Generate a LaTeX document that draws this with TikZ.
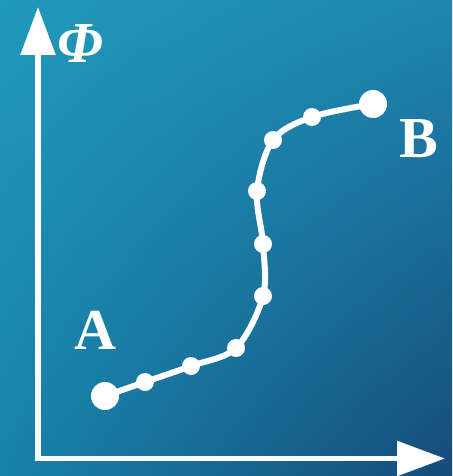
\documentclass[tikz,border=0pt]{standalone}
\usepackage{fontspec}
\setmainfont{Liberation Serif}
\usetikzlibrary{arrows.meta,shadings}
\definecolor{bgTL}{HTML}{2099BA}
\definecolor{bgTR}{HTML}{1E86B0}
\definecolor{bgBL}{HTML}{1882AA}
\definecolor{bgBR}{HTML}{154B7B}
\tikzset{
  axis/.style={white, line width=5.5pt, -{Triangle[width=34pt,length=48pt]}},
  curveline/.style={white, line width=6pt, line cap=round, line join=round},
  bigdot/.style={circle, fill=white, minimum size=28pt, inner sep=0pt},
  smalldot/.style={circle, fill=white, minimum size=18pt, inner sep=0pt},
  lbl/.style={text=white, inner sep=0pt, anchor=base, font=\fontsize{58}{60}\selectfont\bfseries}
}
\begin{document}
\begin{tikzpicture}[x=1pt,y=-1pt]
\useasboundingbox (0,0) rectangle (452,476);
\clip (0,0) rectangle (452,476);
\shade[upper left=bgTL, upper right=bgTR, lower left=bgBL, lower right=bgBR] (0,0) rectangle (452,476);
% axes
\coordinate (O) at (38,458.5);
\coordinate (Ytip) at (38,7);
\coordinate (Xtip) at (445,458.5);
\draw[axis] (38,461) -- (Ytip);
\draw[axis] (35.3,458.5) -- (Xtip);
% points
\coordinate (A) at (105,396);
\coordinate (p1) at (145,382);
\coordinate (p2) at (191,366);
\coordinate (p3) at (236,348);
\coordinate (p4) at (263,296);
\coordinate (p5) at (263,244);
\coordinate (p6) at (257,191);
\coordinate (p7) at (273,140);
\coordinate (p8) at (312,117);
\coordinate (B) at (373,104);
\draw[curveline] plot[smooth, tension=0.55] coordinates {(A) (p1) (p2) (p3) (p4) (p5) (p6) (p7) (p8) (B)};
\node[bigdot] (dA) at (A) {};
\node[bigdot] (dB) at (B) {};
\foreach \p in {p1,p2,p3,p4,p5,p6,p7,p8} \node[smalldot] (d\p) at (\p) {};
% labels
\node[lbl] (lA) at (95,349) {A};
\node[lbl] (lB) at (419,157) {B};
\node[lbl, font=\fontsize{58}{60}\selectfont\bfseries\itshape] (lPhi) at (80,63) {Φ};
\end{tikzpicture}
\end{document}
